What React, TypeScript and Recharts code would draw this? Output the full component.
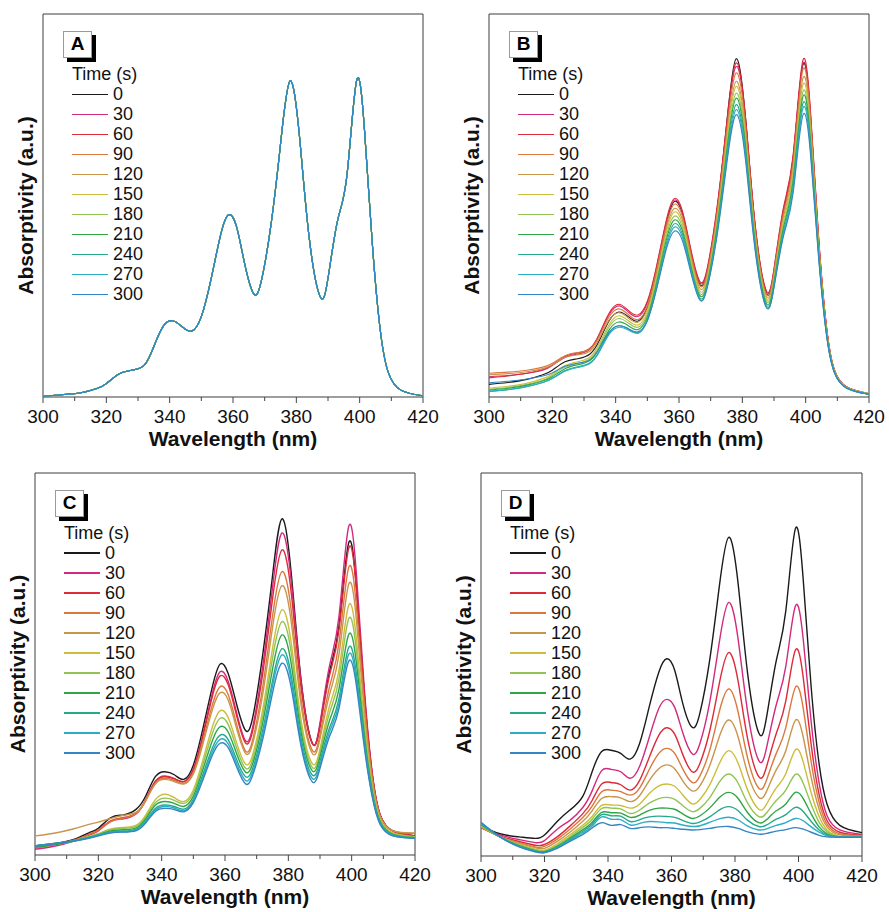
import React from 'react';
import { LineChart, Line, XAxis, YAxis, ReferenceArea } from 'recharts';

const WAVELENGTHS = [300, 306, 312, 317, 320, 324, 328, 332, 335, 338, 341, 344, 347, 350, 353, 356, 358.5, 361, 363.5, 366.5, 369, 372, 375, 378, 381, 384, 387.5, 390, 393, 396, 399, 401.5, 404, 406.5, 409, 413, 420];
const TIMES = ['0', '30', '60', '90', '120', '150', '180', '210', '240', '270', '300'];
const COLORS = ['#1a1a1a', '#d12a7e', '#dc2a38', '#dc773c', '#c8954a', '#cdbd3c', '#92c454', '#2fa646', '#25a98a', '#2aaec4', '#3584c4'];
const X_TICKS = [300, 310, 320, 330, 340, 350, 360, 370, 380, 390, 400, 410, 420];
const X_LABELS = [300, 320, 340, 360, 380, 400, 420];

// Panel A: all eleven spectra overlap
const A_SPECTRUM = [0.2, 0.6, 1.1, 2.2, 3.5, 6.0, 7.0, 8.3, 13.2, 18.5, 19.9, 18.3, 17.2, 21.0, 30.5, 42.0, 47.5, 44.8, 35.5, 27.0, 30.5, 45.0, 66.0, 82.5, 68.0, 42.0, 26.2, 31.0, 46.0, 58.0, 82.5, 70.0, 40.0, 17.5, 6.5, 1.8, 0.3];

// Panel B
const B_0 = [3.3, 3.8, 4.6, 5.8, 7.0, 9.2, 10.0, 11.3, 15.0, 20.0, 22.2, 21.0, 19.8, 23.5, 33.0, 45.0, 51.0, 48.0, 38.5, 29.5, 33.0, 48.5, 71.0, 88.3, 73.0, 45.0, 27.3, 32.5, 48.5, 62.0, 86.3, 73.5, 42.0, 18.5, 7.0, 2.5, 0.7];
const B_30 = [5.3, 5.6, 6.2, 7.0, 8.2, 10.3, 11.2, 12.5, 16.5, 21.6, 23.8, 22.2, 21.0, 24.6, 34.2, 45.8, 51.4, 48.4, 39.2, 30.0, 33.6, 49.0, 70.3, 86.3, 72.5, 45.0, 27.7, 33.2, 49.0, 62.3, 86.5, 74.2, 42.5, 18.8, 7.2, 2.6, 0.8];
const B_60 = [5.0, 5.5, 6.2, 7.2, 8.4, 10.6, 11.5, 12.8, 16.8, 22.0, 24.2, 22.6, 21.4, 25.0, 34.5, 46.2, 51.8, 48.8, 39.5, 30.3, 34.0, 49.5, 71.0, 87.2, 73.0, 45.5, 27.9, 33.5, 49.5, 63.0, 87.5, 75.0, 43.0, 19.0, 7.3, 2.6, 0.8];
const B_90 = [6.2, 6.5, 7.0, 7.8, 8.8, 10.8, 11.6, 12.6, 16.2, 21.0, 23.0, 21.5, 20.2, 23.8, 33.3, 44.8, 50.3, 47.4, 38.3, 29.2, 32.8, 48.0, 69.0, 84.6, 71.0, 44.0, 27.0, 32.5, 48.0, 61.0, 85.0, 73.0, 42.0, 18.6, 7.2, 2.6, 0.9];
const B_120 = [5.8, 6.1, 6.6, 7.4, 8.4, 10.3, 11.0, 12.0, 15.6, 20.2, 22.0, 20.6, 19.5, 23.0, 32.4, 43.8, 49.2, 46.4, 37.4, 28.5, 32.0, 47.0, 67.5, 82.4, 69.2, 43.0, 26.4, 31.8, 47.0, 59.5, 82.8, 71.2, 41.0, 18.2, 7.0, 2.5, 0.9];
const B_150 = [2.3, 2.8, 3.6, 4.8, 6.0, 8.2, 9.2, 10.5, 14.2, 19.0, 21.2, 19.9, 18.8, 22.3, 31.6, 43.0, 48.3, 45.5, 36.7, 27.8, 31.3, 46.0, 66.2, 81.1, 68.0, 42.2, 25.8, 31.0, 46.0, 58.5, 81.1, 69.8, 40.3, 17.8, 6.9, 2.4, 0.8];
const B_180 = [2.0, 2.5, 3.3, 4.4, 5.6, 7.8, 8.8, 10.1, 13.6, 18.4, 20.5, 19.3, 18.2, 21.6, 30.8, 42.0, 47.2, 44.5, 35.9, 27.2, 30.6, 45.0, 64.8, 79.3, 66.6, 41.3, 25.2, 30.4, 45.0, 57.2, 79.3, 68.3, 39.6, 17.5, 6.8, 2.4, 0.8];
const B_210 = [1.8, 2.3, 3.1, 4.2, 5.3, 7.4, 8.4, 9.6, 13.0, 17.6, 19.6, 18.6, 17.6, 20.9, 30.0, 41.0, 46.2, 43.6, 35.1, 26.6, 30.0, 44.2, 63.7, 78.0, 65.5, 40.6, 24.6, 29.8, 44.2, 56.2, 78.0, 67.2, 39.0, 17.2, 6.7, 2.3, 0.7];
const B_240 = [1.4, 1.9, 2.7, 3.8, 4.9, 6.9, 7.9, 9.0, 12.3, 16.8, 18.6, 17.8, 16.8, 20.2, 29.2, 40.0, 45.2, 42.7, 34.4, 26.0, 29.4, 43.3, 62.3, 76.3, 64.0, 39.8, 24.0, 29.2, 43.3, 55.0, 76.3, 65.8, 38.3, 17.0, 6.6, 2.3, 0.7];
const B_270 = [1.5, 2.0, 2.8, 3.8, 4.8, 6.7, 7.7, 8.8, 12.0, 16.4, 18.2, 17.5, 16.6, 19.8, 28.7, 39.2, 44.3, 41.9, 33.8, 25.6, 29.0, 42.6, 61.3, 75.0, 63.0, 39.2, 23.6, 28.8, 42.6, 54.0, 75.0, 64.8, 37.8, 16.8, 6.5, 2.3, 0.7];
const B_300 = [3.7, 4.1, 4.7, 5.5, 6.3, 8.0, 8.8, 9.8, 12.9, 17.0, 18.6, 17.8, 17.0, 20.0, 28.4, 38.6, 43.3, 41.0, 33.3, 25.4, 28.8, 42.0, 60.3, 73.7, 61.8, 38.5, 23.5, 28.5, 42.0, 53.0, 73.2, 63.5, 37.2, 16.6, 6.5, 2.3, 0.7];

// Panel C
const C_0 = [2.4, 3.0, 4.0, 5.8, 7.0, 9.8, 10.5, 12.0, 15.5, 20.5, 21.8, 21.0, 19.8, 23.5, 33.0, 44.0, 50.0, 47.5, 40.0, 32.6, 37.0, 53.0, 73.0, 88.0, 73.0, 46.0, 29.4, 34.0, 48.0, 60.0, 81.5, 70.0, 42.0, 21.0, 10.5, 6.3, 5.0];
const C_30 = [1.5, 2.3, 3.6, 5.2, 6.3, 8.8, 9.5, 10.8, 14.5, 19.3, 20.7, 20.0, 19.2, 22.5, 31.5, 42.3, 48.0, 45.5, 37.8, 29.9, 34.5, 50.0, 70.0, 84.3, 71.0, 45.5, 29.3, 34.5, 49.5, 62.5, 85.8, 73.5, 43.5, 21.5, 10.5, 6.2, 4.8];
const C_60 = [1.9, 2.6, 3.8, 5.4, 6.6, 9.0, 9.8, 11.0, 14.5, 19.2, 20.5, 19.9, 19.2, 22.3, 31.0, 41.5, 46.9, 44.6, 37.0, 29.3, 33.5, 48.0, 67.0, 79.9, 68.0, 44.0, 29.3, 33.5, 47.0, 59.0, 80.1, 69.5, 42.0, 21.0, 10.5, 6.3, 5.0];
const C_90 = [2.0, 2.7, 3.8, 5.3, 6.5, 8.8, 9.7, 10.9, 14.3, 18.8, 20.1, 19.5, 18.8, 21.6, 29.8, 39.3, 44.1, 42.0, 34.7, 27.2, 31.0, 44.5, 62.5, 74.2, 63.5, 41.0, 27.5, 31.5, 44.0, 55.5, 75.1, 65.0, 39.5, 20.0, 10.2, 6.3, 5.6];
const C_120 = [5.0, 5.7, 6.8, 8.0, 8.6, 9.6, 10.4, 11.2, 14.3, 18.6, 19.8, 19.2, 18.6, 21.2, 29.0, 38.0, 42.5, 40.6, 33.6, 26.6, 30.0, 42.5, 59.5, 70.5, 60.5, 39.5, 26.7, 30.5, 42.0, 52.5, 70.7, 61.5, 37.5, 19.5, 10.0, 6.3, 5.8];
const C_150 = [2.0, 2.7, 3.6, 4.8, 5.6, 6.8, 7.2, 7.8, 10.5, 14.5, 15.9, 15.0, 14.0, 17.0, 24.8, 33.5, 37.8, 36.0, 29.8, 23.8, 27.0, 38.5, 54.0, 64.2, 55.0, 35.5, 24.0, 27.8, 39.0, 48.5, 65.2, 56.5, 34.5, 18.0, 9.3, 5.8, 4.8];
const C_180 = [2.1, 2.8, 3.7, 4.8, 5.5, 6.6, 7.0, 7.5, 10.0, 13.7, 14.9, 14.3, 13.5, 16.3, 23.6, 31.8, 35.8, 34.2, 28.4, 22.7, 25.8, 36.8, 51.5, 61.1, 52.5, 34.0, 23.0, 26.8, 37.2, 46.2, 61.7, 53.5, 33.0, 17.3, 9.0, 5.6, 4.7];
const C_210 = [2.0, 2.7, 3.6, 4.6, 5.3, 6.3, 6.6, 7.1, 9.5, 13.0, 14.0, 13.5, 12.7, 15.4, 22.3, 29.9, 33.6, 32.2, 26.9, 21.7, 24.6, 35.0, 48.6, 57.6, 49.6, 32.3, 22.1, 25.7, 35.2, 43.5, 57.6, 50.2, 31.3, 16.6, 8.7, 5.4, 4.5];
const C_240 = [2.3, 2.9, 3.7, 4.6, 5.2, 6.1, 6.3, 6.8, 9.0, 12.2, 13.1, 12.7, 12.0, 14.6, 21.0, 28.0, 31.4, 30.2, 25.3, 20.5, 23.3, 33.0, 45.6, 54.0, 46.6, 30.6, 21.0, 24.5, 33.3, 41.0, 54.2, 47.3, 29.8, 16.0, 8.4, 5.2, 4.4];
const C_270 = [2.4, 3.0, 3.7, 4.5, 5.1, 5.9, 6.1, 6.6, 8.7, 11.8, 12.7, 12.3, 11.6, 14.1, 20.3, 27.0, 30.3, 29.1, 24.3, 19.5, 22.4, 31.9, 44.2, 52.4, 45.2, 29.6, 20.1, 23.6, 32.2, 39.7, 52.4, 45.8, 29.0, 15.6, 8.2, 5.1, 4.4];
const C_300 = [2.3, 2.9, 3.6, 4.4, 5.0, 5.8, 6.0, 6.4, 8.4, 11.4, 12.2, 11.9, 11.3, 13.7, 19.6, 26.1, 29.3, 28.1, 23.4, 18.6, 21.5, 30.6, 42.4, 50.2, 43.4, 28.6, 19.2, 22.7, 31.0, 38.4, 50.6, 44.3, 28.2, 15.2, 8.0, 5.0, 4.4];

// Panel D
const D_0 = [7.8, 5.8, 5.0, 4.6, 5.5, 9.0, 12.0, 15.5, 22.0, 27.3, 27.6, 26.8, 25.3, 29.5, 39.0, 48.0, 51.5, 48.5, 40.0, 33.6, 37.5, 51.0, 70.0, 83.2, 71.0, 47.5, 32.1, 36.5, 51.0, 64.0, 85.4, 72.0, 44.0, 24.0, 13.5, 8.0, 6.1];
const D_30 = [7.5, 5.5, 4.3, 3.5, 4.0, 7.0, 9.3, 12.6, 17.0, 22.3, 22.6, 22.0, 20.3, 23.5, 31.0, 38.5, 40.9, 38.8, 32.3, 26.7, 29.5, 40.0, 55.5, 66.2, 56.5, 37.5, 24.9, 28.5, 39.5, 49.5, 65.2, 56.5, 35.0, 19.0, 10.5, 6.8, 5.6];
const D_60 = [7.4, 5.2, 3.8, 2.8, 3.0, 5.0, 7.8, 11.0, 14.5, 18.8, 19.2, 18.6, 17.2, 19.8, 25.8, 31.5, 33.5, 31.8, 26.6, 22.0, 24.3, 32.5, 44.8, 53.1, 45.5, 30.5, 20.7, 23.5, 32.0, 40.5, 53.7, 46.5, 29.0, 16.0, 9.2, 6.2, 5.4];
const D_90 = [7.6, 5.0, 3.5, 2.4, 2.5, 4.4, 7.0, 10.0, 13.0, 16.8, 17.2, 16.8, 15.9, 17.8, 22.6, 26.8, 28.1, 26.8, 22.8, 19.2, 21.0, 27.5, 37.5, 43.6, 37.5, 25.5, 17.7, 20.0, 26.8, 33.5, 44.0, 38.5, 24.5, 14.0, 8.3, 5.8, 5.3];
const D_120 = [7.8, 5.0, 3.3, 2.2, 2.0, 3.8, 6.2, 9.0, 11.8, 15.0, 15.5, 15.2, 14.2, 15.8, 19.7, 22.8, 23.8, 22.8, 19.7, 17.0, 18.4, 23.5, 31.0, 35.5, 31.0, 21.5, 15.3, 17.0, 22.5, 27.5, 35.4, 31.0, 20.5, 12.2, 7.6, 5.5, 5.2];
const D_150 = [7.8, 5.0, 3.0, 1.8, 1.5, 3.2, 5.5, 8.0, 10.3, 13.2, 13.3, 13.2, 12.5, 13.6, 16.3, 18.3, 18.8, 18.2, 16.0, 13.6, 14.8, 18.5, 24.0, 27.5, 24.2, 17.2, 12.2, 13.6, 17.8, 21.5, 27.7, 24.5, 16.5, 10.3, 6.8, 5.2, 5.0];
const D_180 = [8.0, 5.0, 2.9, 1.6, 1.3, 2.8, 5.0, 7.4, 9.6, 12.4, 12.5, 12.3, 11.1, 12.0, 13.8, 15.0, 15.3, 14.8, 13.2, 11.6, 12.5, 15.2, 19.2, 21.4, 19.0, 13.8, 10.3, 11.3, 14.5, 17.2, 21.3, 19.0, 13.5, 8.8, 6.3, 5.0, 4.9];
const D_210 = [8.2, 5.0, 2.7, 1.4, 1.1, 2.5, 4.6, 6.8, 8.8, 11.4, 11.3, 11.2, 10.1, 10.7, 11.9, 12.5, 12.5, 12.2, 11.0, 9.8, 10.5, 12.5, 15.2, 16.6, 15.0, 11.3, 8.7, 9.5, 11.8, 13.6, 16.6, 15.0, 11.0, 7.6, 5.8, 5.0, 4.9];
const D_240 = [8.4, 5.0, 2.6, 1.3, 1.0, 2.3, 4.3, 6.4, 8.3, 10.8, 10.5, 10.4, 9.0, 9.5, 10.2, 10.4, 10.3, 10.1, 9.3, 8.5, 8.9, 10.2, 12.0, 12.9, 11.8, 9.3, 7.7, 8.1, 9.6, 10.8, 12.7, 11.6, 9.0, 6.8, 5.5, 5.0, 4.9];
const D_270 = [8.6, 5.0, 2.5, 1.2, 0.9, 2.2, 4.0, 6.0, 7.8, 10.2, 9.6, 9.5, 8.1, 8.5, 9.0, 8.9, 8.7, 8.6, 8.1, 7.7, 7.9, 8.8, 9.7, 10.1, 9.4, 7.8, 6.8, 7.1, 8.0, 8.7, 9.8, 9.2, 7.6, 6.2, 5.3, 5.0, 4.9];
const D_300 = [8.8, 5.0, 2.4, 1.1, 0.9, 2.0, 3.8, 5.6, 7.3, 8.7, 8.0, 8.2, 7.2, 7.4, 7.6, 7.4, 7.4, 7.2, 7.0, 6.8, 6.9, 7.2, 7.6, 7.7, 7.2, 6.3, 5.7, 5.9, 6.5, 6.9, 7.4, 7.0, 6.2, 5.4, 5.0, 4.9, 4.9];

const FONT = '"Liberation Sans", Arial, Helvetica, sans-serif';

function buildRows(series: number[][]) {
  return WAVELENGTHS.map((w, i) => {
    const row: Record<string, number> = { w };
    series.forEach((s, k) => {
      row['t' + TIMES[k]] = s[i];
    });
    return row;
  });
}

const XTick = (props: any) => {
  const { x, y, payload } = props;
  const v = payload.value as number;
  const major = X_LABELS.includes(v);
  return (
    <g>
      <line x1={x} x2={x} y1={y} y2={y + (major ? 6 : 4)} stroke="#444" strokeWidth={1} />
      {major && (
        <text x={x} y={y + 26} textAnchor="middle" fontSize={19} fill="#111" fontFamily={FONT}>
          {v}
        </text>
      )}
    </g>
  );
};

// Both axis titles are drawn from the x-axis label slot; the plot top is passed in.
const AxisTitles = (props: any) => {
  const vb = props.viewBox || {};
  const plotTop = props.plotTop as number;
  const cx = vb.x - 10.5;
  const cy = (plotTop + vb.y) / 2;
  return (
    <g>
      <text x={vb.x + vb.width / 2} y={vb.y + 49} textAnchor="middle" fontSize={21} fontWeight="bold" fill="#111" fontFamily={FONT}>
        Wavelength (nm)
      </text>
      <text x={cx} y={cy} transform={`rotate(-90, ${cx}, ${cy})`} textAnchor="middle" fontSize={21} fontWeight="bold" fill="#111" fontFamily={FONT}>
        Absorptivity (a.u.)
      </text>
    </g>
  );
};

type PanelProps = {
  letter: string;
  series: number[][];
  x: number;
  y: number;
  w: number;
  h: number;
  ml: number;
  mt: number;
  mr: number;
  axisH: number;
  lw: number;
};

const Panel = ({ letter, series, x, y, w, h, ml, mt, mr, axisH, lw }: PanelProps) => {
  const rows = buildRows(series);
  return (
    <div style={{ position: 'absolute', left: x, top: y, width: w, height: h }}>
      <LineChart width={w} height={h} data={rows} margin={{ top: mt, right: mr, left: ml, bottom: 0 }}>
        <XAxis
          dataKey="w"
          type="number"
          domain={[300, 420]}
          ticks={X_TICKS}
          interval={0}
          tickLine={false}
          axisLine={false}
          tickSize={0}
          tickMargin={0}
          height={axisH}
          tick={(p: any) => <XTick {...p} />}
          label={(p: any) => <AxisTitles {...p} plotTop={mt} />}
          allowDataOverflow
        />
        <YAxis type="number" domain={[0, 100]} hide allowDataOverflow />
        <ReferenceArea x1={300} x2={420} y1={0} y2={100} fill="none" fillOpacity={0} stroke="#3c3c3c" strokeWidth={1} />
        {series.map((_, k) => (
          <Line
            key={TIMES[k]}
            dataKey={'t' + TIMES[k]}
            type="natural"
            stroke={COLORS[k]}
            strokeWidth={lw}
            dot={false}
            activeDot={false}
            isAnimationActive={false}
          />
        ))}
      </LineChart>
      <div
        style={{
          position: 'absolute',
          left: ml + 20,
          top: mt + 16.5,
          width: 29,
          height: 27,
          boxSizing: 'border-box',
          border: '1px solid #9a9a9a',
          background: '#fff',
          boxShadow: '4px 4px 0 #000',
          display: 'flex',
          alignItems: 'center',
          justifyContent: 'center',
          fontFamily: FONT,
          fontWeight: 'bold',
          fontSize: 19,
          color: '#000',
        }}
      >
        {letter}
      </div>
      <div style={{ position: 'absolute', left: ml + 29, top: mt + 50, fontFamily: FONT, fontSize: 18, lineHeight: '20px', color: '#111' }}>
        <div style={{ height: 20, whiteSpace: 'nowrap' }}>Time (s)</div>
        {TIMES.map((t, k) => (
          <div key={t} style={{ display: 'flex', alignItems: 'center', height: 20 }}>
            <div style={{ width: 36, height: lw > 1.2 ? 2 : 1, background: COLORS[k] }} />
            <span style={{ marginLeft: 5 }}>{t}</span>
          </div>
        ))}
      </div>
    </div>
  );
};

export default function App() {
  const seriesA = TIMES.map(() => A_SPECTRUM);
  const seriesB = [B_0, B_30, B_60, B_90, B_120, B_150, B_180, B_210, B_240, B_270, B_300];
  const seriesC = [C_0, C_30, C_60, C_90, C_120, C_150, C_180, C_210, C_240, C_270, C_300];
  const seriesD = [D_0, D_30, D_60, D_90, D_120, D_150, D_180, D_210, D_240, D_270, D_300];
  return (
    <div style={{ position: 'absolute', left: 0, top: 0, width: 889, height: 912, background: '#fff', fontFamily: FONT }}>
      <Panel letter="A" series={seriesA} x={0} y={0} w={445} h={460} ml={43} mt={14} mr={22} axisH={63} lw={1.1} />
      <Panel letter="B" series={seriesB} x={445} y={0} w={444} h={460} ml={44} mt={14} mr={20} axisH={63} lw={1.1} />
      <Panel letter="C" series={seriesC} x={0} y={460} w={445} h={452} ml={35} mt={13} mr={30} axisH={57} lw={1.4} />
      <Panel letter="D" series={seriesD} x={445} y={460} w={444} h={452} ml={36} mt={13} mr={27} axisH={56} lw={1.4} />
    </div>
  );
}
